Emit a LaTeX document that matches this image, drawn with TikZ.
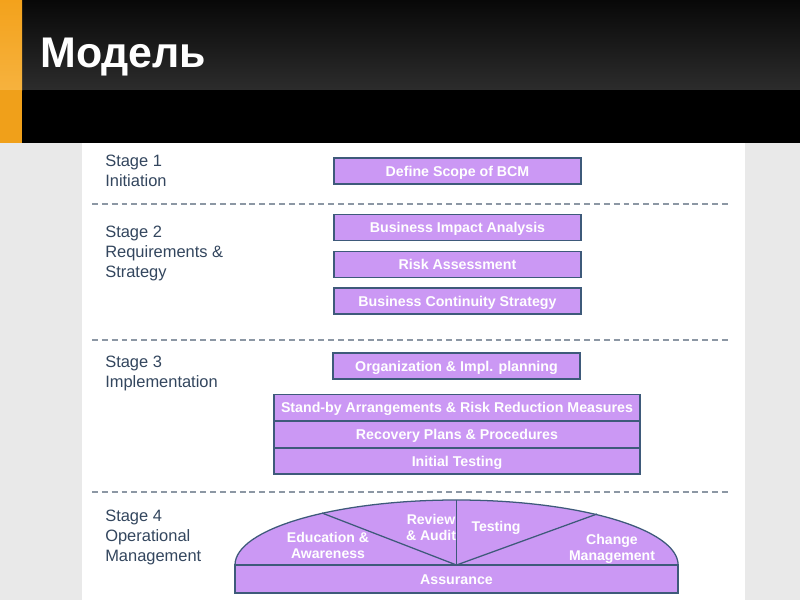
\documentclass[tikz,border=0pt]{standalone}
\usepackage{fontspec}
\setmainfont{Liberation Sans}
\usetikzlibrary{positioning}
\definecolor{hdrtop}{HTML}{080808}
\definecolor{hdrbot}{HTML}{2C2C2C}
\definecolor{orangetop}{HTML}{F3A21C}
\definecolor{orangebot}{HTML}{F6B23E}
\definecolor{orangelow}{HTML}{F0A01A}
\definecolor{pagegrey}{HTML}{E9E9E9}
\definecolor{boxfill}{HTML}{CB98F4}
\definecolor{boxline}{HTML}{3E5A7A}
\definecolor{stagetxt}{HTML}{33465E}
\definecolor{sepline}{HTML}{8C97A4}

\begin{document}
\begin{tikzpicture}[
  x=0.025cm, y=-0.025cm,
  every node/.style={font=\fontsize{10.1}{11.5}\selectfont},
  stage/.style={anchor=north west, align=left, inner sep=0pt, text=stagetxt,
    font=\fontsize{11.7}{14.2}\selectfont},
  task/.style={rectangle, draw=boxline, line width=0.9pt, fill=boxfill,
    text=white, font=\fontsize{10.1}{11.5}\selectfont\bfseries,
    text height=7.2pt, text depth=0pt,
    minimum width=6.175cm, minimum height=0.65cm, inner sep=0pt},
  wide/.style={task, minimum width=9.15cm, minimum height=0.64cm},
  sep/.style={draw=sepline, line width=1pt, dash pattern=on 4.2pt off 2.8pt},
  part/.style={text=white, align=center, inner sep=0pt,
    font=\fontsize{10}{11.4}\selectfont\bfseries},
]
\useasboundingbox (0,0) rectangle (800,600);

% Header band and page
\fill[pagegrey] (0,143) rectangle (800,600);
\fill[white] (82,143) rectangle (745,600);
\shade[top color=hdrtop, bottom color=hdrbot] (22,0) rectangle (800,90);
\fill[black] (22,90) rectangle (800,143);
\shade[top color=orangetop, bottom color=orangebot] (0,0) rectangle (22,90);
\fill[orangelow] (0,90) rectangle (22,143);
\node[anchor=base west, inner sep=0pt, text=white,
  font=\fontsize{30.5}{33}\selectfont\bfseries] (title) at (40,67) {Модель};

% Stage labels
\node[stage] (s1) at (105,155) {Stage 1\\Initiation};
\node[stage] (s2) at (105,226) {Stage 2\\Requirements \&\\Strategy};
\node[stage] (s3) at (105,356) {Stage 3\\Implementation};
\node[stage] (s4) at (105,510) {Stage 4\\Operational\\Management};

% Separators
\draw[sep] (92,204) -- (728,204);
\draw[sep] (92,340) -- (728,340);
\draw[sep] (92,492) -- (728,492);

% Stage 1 and 2 boxes
\node[task] (scope) at (457.5,171)   {Define Scope of BCM};
\node[task] (bia)   at (457.5,227.5) {Business Impact Analysis};
\node[task] (risk)  at (457.5,264.5) {Risk Assessment};
\node[task] (bcs)   at (457.5,301)   {Business Continuity Strategy};

% Stage 3 boxes
\node[task] (org)     at (456.5,366) {Organization \& Impl. planning};
\node[wide] (standby) at (457,407.5) {Stand-by Arrangements \& Risk Reduction Measures};
\node[wide] (recover) [below=0pt of standby] {Recovery Plans \& Procedures};
\node[wide] (initial) [below=0pt of recover] {Initial Testing};

% Stage 4: dome over assurance
\coordinate (hub) at (456.5,565);
\filldraw[fill=boxfill, draw=boxline, line width=0.9pt]
  (235,565) arc[start angle=180, end angle=0, x radius=5.5375cm, y radius=1.625cm] -- cycle;
\draw[boxline, line width=0.9pt] (hub) -- (322,513);
\draw[boxline, line width=0.9pt] (hub) -- (456.5,500);
\draw[boxline, line width=0.9pt] (hub) -- (597,514);
\node[part] (edu)    at (328,545) {Education \&\\Awareness};
\node[part] (review) at (431,527) {Review\\\& Audit};
\node[part] (test)   at (496,528) {Testing};
\node[part] (change) at (612,549) {Change\\Management};
\node[task, minimum width=11.075cm, minimum height=0.7cm] (assure) at (456.5,579) {Assurance};
\end{tikzpicture}
\end{document}
